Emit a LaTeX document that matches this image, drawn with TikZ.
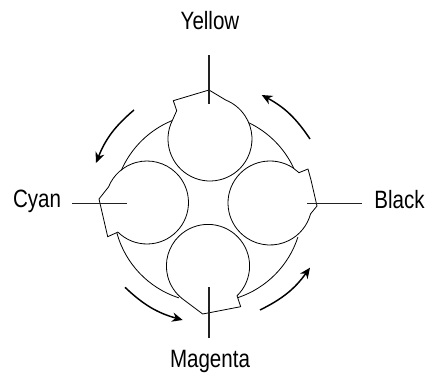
\documentclass[tikz,border=0pt]{standalone}
\usepackage{fontspec}
\setmainfont[FakeStretch=0.82]{Liberation Sans}
\usepackage{xcolor}
\usetikzlibrary{arrows.meta}
\definecolor{leadgray}{HTML}{222222}

\begin{document}
\begin{tikzpicture}[x=0.75pt,y=0.75pt,
    outline/.style={line width=0.6pt,line join=round},
    leader/.style={line width=0.85pt,leadgray},
    turn/.style={line width=1.1pt,-{Stealth[length=8pt,width=7pt]},bend right=14},
    label/.style={font=\fontsize{18.8}{22}\selectfont,inner sep=0pt,anchor=base}]
  \useasboundingbox (0,0) rectangle (430,375);

  % Rahmen: grosser Kreis, nur zwischen den Keulen
  \coordinate (hub) at (208,167);
  \draw[outline] ([shift=(112.2:94.5)]hub) arc[start angle=112.2,end angle=156.5,radius=94.5];
  \draw[outline] ([shift=(195.4:94.5)]hub) arc[start angle=195.4,end angle=252,radius=94.5];
  \draw[outline] ([shift=(288.6:94.5)]hub) arc[start angle=288.6,end angle=342,radius=94.5];
  \draw[outline] ([shift=(25.2:94.5)]hub) arc[start angle=25.2,end angle=64.5,radius=94.5];

  % Yellow
  \coordinate (yellowhub) at (210,236);
  \draw[outline] ([shift=(153.4:42)]yellowhub) arc[start angle=153.4,end angle=428,radius=42]
    -- (209,285) -- (173.3,274.3) -- (176.7,264.3) -- cycle;
  % Cyan
  \coordinate (cyanhub) at (147,172.5);
  \draw[outline] ([shift=(225.5:41.5)]cyanhub) arc[start angle=225.5,end angle=518,radius=41.5]
    -- (99,176) -- (107.7,138.3) -- cycle;
  % Magenta
  \coordinate (magentahub) at (208,109);
  \draw[outline] ([shift=(314.3:41.6)]magentahub) arc[start angle=314.3,end angle=592,radius=41.6]
    -- (202.7,61) -- (240.7,68.3) -- cycle;
  % Black
  \coordinate (blackhub) at (270,172);
  \draw[outline] ([shift=(56.7:42)]blackhub) arc[start angle=56.7,end angle=345,radius=42]
    -- (317,169) -- (311,195) -- (308,206) -- (299,202.3) -- cycle;

  % Beschriftung
  \node[label] (yellow) at (210,345) {Yellow};
  \node[label] (cyan) at (37,167) {Cyan};
  \node[label] (black) at (399.5,166) {Black};
  \node[label] (magenta) at (210,7) {Magenta};

  \coordinate (yellowtop) at (209,320);
  \coordinate (yellowend) at (209,271);
  \coordinate (cyanleft) at (72,171.7);
  \coordinate (cyanend) at (127,171.7);
  \coordinate (blackright) at (362,171.7);
  \coordinate (blackend) at (307,171.7);
  \coordinate (magentalow) at (209,37);
  \coordinate (magentaend) at (209,88);
  \draw[leader] (yellowtop) -- (yellowend);
  \draw[leader] (cyanleft) -- (cyanend);
  \draw[leader] (blackright) -- (blackend);
  \draw[leader] (magentalow) -- (magentaend);

  % Drehrichtung
  \coordinate (turnaa) at (134,265);
  \coordinate (turnab) at (96,212);
  \coordinate (turnba) at (125,87.7);
  \coordinate (turnbb) at (182.7,55);
  \coordinate (turnca) at (260,65);
  \coordinate (turncb) at (310,107.3);
  \coordinate (turnda) at (310,236);
  \coordinate (turndb) at (261.7,280);
  \draw[turn] (turnaa) to (turnab);
  \draw[turn] (turnba) to (turnbb);
  \draw[turn] (turnca) to (turncb);
  \draw[turn] (turnda) to (turndb);
\end{tikzpicture}
\end{document}
